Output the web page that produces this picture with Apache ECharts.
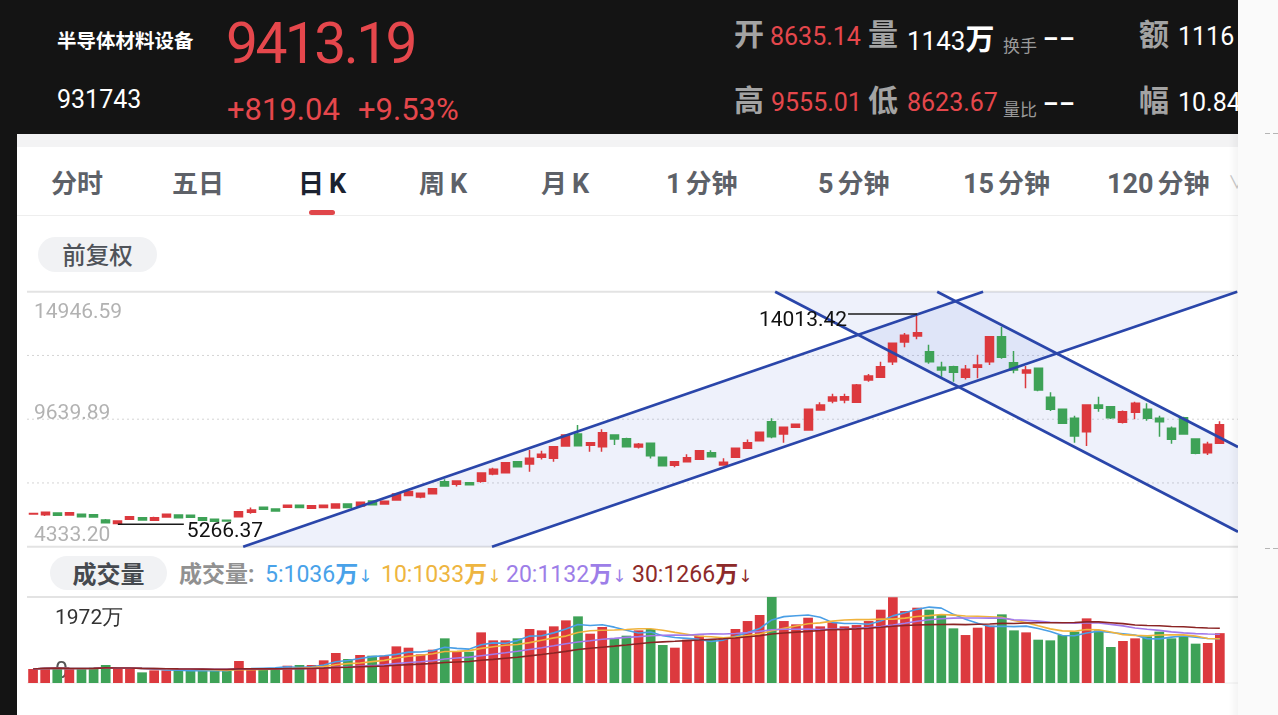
<!DOCTYPE html>
<html lang="zh-CN">
<head>
<meta charset="utf-8">
<title>半导体材料设备 日K</title>
<script src="https://cdn.jsdelivr.net/npm/echarts@6.0.0/dist/echarts.min.js"></script>
<style>
  html, body { margin:0; padding:0; width:1278px; height:715px; overflow:hidden; background:#fff; }
  body { position:relative; font-family:'Noto Sans CJK SC', Roboto, sans-serif; }
  .abs { position:absolute; white-space:nowrap; line-height:1; }
  .num { font-family: Roboto, 'Noto Sans CJK SC', sans-serif; }
  .red { color:#e5474c; }
  .wh { color:#ffffff; }
  .lbl { font-size:30px; font-weight:700; color:#a3a3a3; }
  .small { font-size:17px; color:#9a9a9a; }
  .dd { font-family: Roboto, sans-serif; font-size:24px; font-weight:700; color:#fff; letter-spacing:1px; }
  #header { position:absolute; left:0; top:0; width:1238px; height:134px; background:#141414; overflow:hidden; }
  #leftbar { position:absolute; left:0; top:0; width:17px; height:715px; background:#141414; z-index:5; }
  #rightpanel { position:absolute; left:1238px; top:0; width:40px; height:715px; background:#fafafa; z-index:5; }
  .dash { position:absolute; height:1px; width:5px; background:#b5b5b5; }
  #tabstrip { position:absolute; left:17px; top:134px; width:1221px; height:13px; background:#f3f3f4; }
  #tabline { position:absolute; left:17px; top:215px; width:1221px; height:1px; background:#eeeeee; }
  .tab { font-size:26px; font-weight:700; color:#5d6168; top:168.5px; }
  .tab .d { font-family: Roboto, sans-serif; font-size:27px; font-weight:700; margin-right:4px; }
  .tab .k { font-family: Roboto, sans-serif; font-size:27px; font-weight:700; margin-left:5px; }
  .tab.on { color:#1b2230; }
  #underline { position:absolute; left:309px; top:210px; width:26px; height:4.5px; border-radius:3px; background:#e0464a; }
  .pill { position:absolute; display:flex; align-items:center; justify-content:center; background:#f1f2f4; line-height:1; white-space:nowrap; }
  #chart { position:absolute; left:0; top:0; width:1278px; height:715px; z-index:2; }
  #shade { position:absolute; left:1229px; top:134px; width:9px; height:581px; z-index:4;
           background:linear-gradient(to right, rgba(0,0,0,0), rgba(0,0,0,0.045)); pointer-events:none; }
  .leg { top:561px; font-size:23px; }
  .leg .n { font-family: Roboto, sans-serif; }
  .leg .w { font-weight:700; }
  .leg .ar { font-family:'DejaVu Sans', sans-serif; font-size:17px; }
</style>
</head>
<body>
<div id="header">
  <div class="abs wh" style="left:57px;top:30px;font-size:19.5px;font-weight:700;">半导体材料设备</div>
  <div class="abs num red" style="left:226px;top:15px;font-size:57px;letter-spacing:-2.6px;">9413.19</div>
  <div class="abs num wh" style="left:57px;top:87px;font-size:25px;">931743</div>
  <div class="abs num red" style="left:227px;top:94px;font-size:31px;">+819.04</div>
  <div class="abs num red" style="left:358px;top:94px;font-size:31px;">+9.53%</div>

  <div class="abs lbl" style="left:734px;top:17px;">开</div>
  <div class="abs num red" style="left:770px;top:24px;font-size:25px;">8635.14</div>
  <div class="abs lbl" style="left:868px;top:17px;">量</div>
  <div class="abs num wh" style="left:907px;top:23px;font-size:26px;">1143<span style="font-family:'Noto Sans CJK SC';font-weight:700;font-size:29px;">万</span></div>
  <div class="abs small" style="left:1003px;top:36px;">换手</div>
  <div class="abs dd" style="left:1043px;top:27px;">––</div>
  <div class="abs lbl" style="left:1139px;top:17px;">额</div>
  <div class="abs num wh" style="left:1178px;top:24px;font-size:25px;">1116</div>

  <div class="abs lbl" style="left:734px;top:83px;">高</div>
  <div class="abs num red" style="left:771px;top:90px;font-size:25px;">9555.01</div>
  <div class="abs lbl" style="left:868px;top:83px;">低</div>
  <div class="abs num red" style="left:907px;top:90px;font-size:25px;">8623.67</div>
  <div class="abs small" style="left:1003px;top:100px;">量比</div>
  <div class="abs dd" style="left:1043px;top:92px;">––</div>
  <div class="abs lbl" style="left:1139px;top:83px;">幅</div>
  <div class="abs num wh" style="left:1178px;top:90px;font-size:25px;">10.84</div>
</div>
<div id="leftbar"></div>
<div id="rightpanel">
  <div class="dash" style="left:27px;top:133px;"></div><div class="dash" style="left:35px;top:133px;"></div>
  <div class="dash" style="left:27px;top:548px;"></div><div class="dash" style="left:35px;top:548px;"></div>
</div>

<div id="tabstrip"></div>
<div class="abs tab" style="left:51px;">分时</div>
<div class="abs tab" style="left:172px;">五日</div>
<div class="abs tab on" style="left:298px;">日<span class="k">K</span></div>
<div class="abs tab" style="left:419px;">周<span class="k">K</span></div>
<div class="abs tab" style="left:541px;">月<span class="k">K</span></div>
<div class="abs tab" style="left:666px;"><span class="d">1</span>分钟</div>
<div class="abs tab" style="left:818px;"><span class="d">5</span>分钟</div>
<div class="abs tab" style="left:963px;"><span class="d">15</span>分钟</div>
<div class="abs tab" style="left:1107px;"><span class="d">120</span>分钟</div>
<div class="abs" style="left:1228px;top:172px;font-size:18px;color:#c8c8c8;">∨</div>
<div id="underline"></div>
<div id="tabline"></div>

<div class="pill" style="left:38px;top:237px;width:119px;height:35px;border-radius:17.5px;font-size:23.5px;font-weight:500;color:#4f5359;">前复权</div>
<div class="pill" style="left:50px;top:556px;width:117px;height:34px;border-radius:17px;font-size:24px;font-weight:700;color:#45494f;">成交量</div>

<div class="abs leg" style="left:179px;color:#919191;font-weight:700;">成交量<span class="n">:</span></div>
<div class="abs leg" id="leg0" style="left:265px;color:#49a2e9;"></div>
<div class="abs leg" id="leg1" style="left:381px;color:#eeb540;"></div>
<div class="abs leg" id="leg2" style="left:506px;color:#9d7ee8;"></div>
<div class="abs leg" id="leg3" style="left:632px;color:#8d2a2a;"></div>

<div id="chart"></div>
<div id="shade"></div>

<script>
// ---------------- data ----------------
// daily candles, [open, close, lowest, highest]
const ohlc = [
  [5695, 5715, 5680, 5740], [5665, 5765, 5615, 5775], [5736, 5640, 5630, 5750], [5652, 5748, 5640, 5760],
  [5682, 5582, 5575, 5695], [5665, 5570, 5560, 5680], [5444, 5332, 5320, 5486], [5300, 5400, 5266.37, 5420],
  [5474, 5582, 5460, 5600], [5540, 5444, 5435, 5555], [5432, 5540, 5415, 5582], [5570, 5682, 5560, 5700],
  [5652, 5540, 5530, 5670], [5640, 5560, 5550, 5655], [5540, 5430, 5420, 5560], [5474, 5390, 5380, 5490],
  [5430, 5400, 5390, 5440], [5582, 5790, 5570, 5800], [5765, 5860, 5700, 5960], [5973, 5890, 5880, 5990],
  [5900, 5820, 5810, 5910], [5973, 6056, 5960, 6090], [6056, 5960, 5950, 6070], [5931, 6040, 5920, 6050],
  [5960, 6056, 5950, 6070], [5944, 6110, 5935, 6120], [6110, 5960, 5950, 6120], [6027, 6181, 6015, 6200],
  [6235, 6081, 6070, 6250], [6110, 6222, 6100, 6240], [6276, 6526, 6260, 6550], [6460, 6630, 6450, 6650],
  [6400, 6560, 6350, 6580], [6540, 6740, 6530, 6770], [7039, 6860, 6840, 7138], [6930, 7067, 6840, 7080],
  [6997, 6910, 6890, 7010], [7060, 7400, 7000, 7420], [7359, 7555, 7310, 7620], [7413, 7829, 7400, 7860],
  [7871, 7663, 7650, 7890], [7775, 8010, 7455, 8358], [8054, 8179, 7960, 8330], [8012, 8495, 7871, 8520],
  [8524, 8982, 8500, 9000], [9024, 8537, 8520, 9398], [8554, 8662, 8287, 8680], [8495, 9078, 8290, 9219],
  [8982, 8815, 8566, 9000], [8828, 8495, 8460, 8870], [8480, 8600, 8420, 8650], [8637, 8120, 8000, 8660],
  [8054, 7704, 7690, 8070], [7720, 7870, 7640, 7900], [7871, 8037, 7850, 8180], [7971, 8329, 7950, 8360],
  [8246, 8079, 8060, 8350], [7733, 7846, 7720, 8010], [8054, 8428, 8030, 8460], [8428, 8662, 8410, 8790],
  [8745, 9095, 8730, 9110], [9536, 8911, 8845, 9677], [9024, 9303, 8662, 9330], [9303, 9427, 9290, 9450],
  [9190, 10052, 9170, 10080], [10023, 10231, 10000, 10350], [10400, 10560, 10300, 10700], [10438, 10576, 10300, 10700],
  [10342, 11063, 10320, 11100], [11271, 11438, 11200, 11520], [11383, 11826, 11350, 12030], [12033, 12799, 11900, 12830],
  [12855, 13132, 12630, 13230], [13102, 13240, 12970, 14013.42], [12449, 12033, 11950, 12740], [11800, 11690, 11410, 12030],
  [11826, 11590, 11200, 11860], [11383, 11715, 11290, 11900], [11800, 11895, 11340, 12320], [12033, 13074, 11900, 13100],
  [13074, 12216, 12160, 13490], [11990, 11688, 11550, 12478], [11560, 11690, 10925, 11850], [11757, 10855, 10800, 11780],
  [10550, 10052, 9980, 10760], [10052, 9469, 9440, 10070], [9677, 8940, 8662, 9780], [9122, 10231, 8524, 10250],
  [10231, 10093, 9952, 10576], [10162, 9704, 9650, 10180], [9510, 9952, 9460, 10000], [9927, 10301, 9636, 10370],
  [10052, 9677, 9580, 10300], [9677, 9536, 8911, 9780], [9261, 8803, 8620, 9340], [9704, 9024, 9000, 9740],
  [8814, 8220, 8180, 8830], [8246, 8594.15, 8150, 8700], [8635.14, 9413.19, 8623.67, 9555.01]
];

// daily volume, 万手
const volumes = [
  321, 351, 351, 321, 321, 351, 413, 321, 351, 244,
  290, 290, 290, 290, 275, 275, 275, 504, 321, 321,
  321, 397, 413, 413, 520, 688, 550, 642, 626, 626,
  840, 810, 657, 764, 1024, 718, 718, 1161, 978, 978,
  1024, 1238, 1207, 1299, 1436, 1528, 1131, 1284, 1024, 1085,
  1207, 1238, 871, 810, 993, 1085, 993, 1039, 1238, 1421,
  1559, 1972, 1421, 1345, 1497, 1299, 1390, 1299, 1329, 1421,
  1681, 1965, 1650, 1727, 1681, 1559, 1253, 1100, 1268, 1314,
  1574, 1207, 1161, 993, 978, 1100, 1177, 1482, 1207, 825,
  963, 1024, 1070, 1177, 1024, 1085, 902, 917, 1143
];

// one slot per trading day plus one empty slot at the right edge
const categories = Array.from({ length: ohlc.length + 1 }, (_, i) => 'D' + (i + 1));

// price axis levels and their tick labels
const priceLevels = [4333.20, 6986.55, 9639.89, 12293.24, 14946.59];
const priceLevelLabels = ['4333.20', '', '9639.89', '', '14946.59'];

// volume axis levels and their tick labels
const volumeLevels = [0, 1972];
const volumeLevelLabels = ['0', '1972万'];

// moving-average legend
const maPeriods = [5, 10, 20, 30];
const maLegendValues = ['1036', '1033', '1132', '1266'];
const maColors = ['#4a9fe6', '#f0b33d', '#a27aea', '#8b2424'];

// hand-drawn channel lines: [x1, price1, x2, price2] in (day index, price)
const risingChannel = [[17.35, 4333.2, 78.45, 14946.59], [37.9, 4333.2, 99.43, 14946.59]];
const fallingChannel = [[61.28, 14946.59, 99.5, 4957.5], [74.66, 14946.59, 99.5, 8482.8]];

// ---------------- helpers ----------------
const UP = '#dc393e', DOWN = '#3ea257';
const isUp = i => ohlc[i][1] >= ohlc[i][0];

function movingAverage(period) {
  return volumes.map((_, i) => {
    const s0 = Math.max(0, i - period + 1);
    let s = 0;
    for (let k = s0; k <= i; k++) s += volumes[k];
    return +(s / (i - s0 + 1)).toFixed(1);
  });
}

function lineAt(seg, x) {
  return seg[1] + (seg[3] - seg[1]) * (x - seg[0]) / (seg[2] - seg[0]);
}

function clipPolygon(pts, r) {
  const x0 = r.x, x1 = r.x + r.width, y0 = r.y, y1 = r.y + r.height;
  const edges = [
    [p => p[0] >= x0, (a, b) => { const t = (x0 - a[0]) / (b[0] - a[0]); return [x0, a[1] + t * (b[1] - a[1])]; }],
    [p => p[0] <= x1, (a, b) => { const t = (x1 - a[0]) / (b[0] - a[0]); return [x1, a[1] + t * (b[1] - a[1])]; }],
    [p => p[1] >= y0, (a, b) => { const t = (y0 - a[1]) / (b[1] - a[1]); return [a[0] + t * (b[0] - a[0]), y0]; }],
    [p => p[1] <= y1, (a, b) => { const t = (y1 - a[1]) / (b[1] - a[1]); return [a[0] + t * (b[0] - a[0]), y1]; }]
  ];
  let out = pts;
  for (const [inside, cut] of edges) {
    const inp = out; out = [];
    for (let i = 0; i < inp.length; i++) {
      const cur = inp[i], prev = inp[(i + inp.length - 1) % inp.length];
      if (inside(cur)) { if (!inside(prev)) out.push(cut(prev, cur)); out.push(cur); }
      else if (inside(prev)) out.push(cut(prev, cur));
    }
    if (!out.length) break;
  }
  return out;
}

function clipSegment(a, b, r) {
  let t0 = 0, t1 = 1;
  const dx = b[0] - a[0], dy = b[1] - a[1];
  const p = [-dx, dx, -dy, dy];
  const q = [a[0] - r.x, r.x + r.width - a[0], a[1] - r.y, r.y + r.height - a[1]];
  for (let i = 0; i < 4; i++) {
    if (p[i] === 0) { if (q[i] < 0) return null; continue; }
    const t = q[i] / p[i];
    if (p[i] < 0) { if (t > t1) return null; if (t > t0) t0 = t; }
    else { if (t < t0) return null; if (t < t1) t1 = t; }
  }
  return [[a[0] + t0 * dx, a[1] + t0 * dy], [a[0] + t1 * dx, a[1] + t1 * dy]];
}

const xFrom = -0.5, xTo = ohlc.length + 0.5;
function channelSegments(api) {
  const a = [api.value(0), api.value(1), api.value(2), api.value(3)];
  const b = [api.value(4), api.value(5), api.value(6), api.value(7)];
  return [a, b].map(seg => [
    api.coord([xFrom, lineAt(seg, xFrom)]),
    api.coord([xTo, lineAt(seg, xTo)])
  ]);
}

// legend text
maPeriods.forEach((p, i) => {
  document.getElementById('leg' + i).innerHTML =
    '<span class="n">' + p + ':' + maLegendValues[i] + '</span><span class="w">万</span><span class="ar">↓</span>';
});

// extremes
let maxIdx = 0, minIdx = 0;
ohlc.forEach((d, i) => { if (d[3] > ohlc[maxIdx][3]) maxIdx = i; if (d[2] < ohlc[minIdx][2]) minIdx = i; });

const channels = [risingChannel, fallingChannel].map(c => c[0].concat(c[1]));

const chart = echarts.init(document.getElementById('chart'));
const option = {
  animation: false,
  grid: [
    { left: 27, top: 291.7, width: 1211, height: 255 },
    { left: 27, top: 597, width: 1211, height: 86 }
  ],
  xAxis: [
    { type: 'category', gridIndex: 0, data: categories, boundaryGap: true, show: false },
    { type: 'value', gridIndex: 0, min: xFrom, max: xTo, show: false },
    { type: 'category', gridIndex: 1, data: categories, boundaryGap: true, show: false }
  ],
  yAxis: [
    { type: 'value', gridIndex: 0, min: priceLevels[0], max: priceLevels[priceLevels.length - 1], show: false },
    { type: 'value', gridIndex: 1, min: volumeLevels[0], max: volumeLevels[1], show: false }
  ],
  series: [
    {
      name: 'priceGrid', type: 'custom', xAxisIndex: 1, yAxisIndex: 0, z: 1, silent: true,
      data: priceLevels.map(v => [0, v]),
      renderItem(params, api) {
        const i = params.dataIndex, n = priceLevels.length;
        const cs = params.coordSys;
        const y = api.coord([0, api.value(1)])[1];
        const edge = i === 0 || i === n - 1;
        const children = [{
          type: 'line',
          shape: { x1: cs.x, y1: y, x2: cs.x + cs.width, y2: y },
          style: edge ? { stroke: '#e3e3e3', lineWidth: 2 } : { stroke: '#d4d4d4', lineWidth: 1, lineDash: [2, 3] }
        }];
        if (priceLevelLabels[i]) {
          const dy = i === n - 1 ? 21 : (i === 0 ? -11 : -5);
          children.push({ type: 'text', style: {
            text: priceLevelLabels[i], x: cs.x + 7, y: y + dy, align: 'left', verticalAlign: 'middle',
            fill: '#b2b2b2', font: '21px Roboto'
          }});
        }
        return { type: 'group', children };
      }
    },
    {
      name: 'channelFill', type: 'custom', xAxisIndex: 1, yAxisIndex: 0, z: 2, silent: true,
      encode: { x: [0, 2, 4, 6], y: [1, 3, 5, 7] },
      data: channels,
      renderItem(params, api) {
        const [a, b] = channelSegments(api);
        const pts = clipPolygon([a[0], a[1], b[1], b[0]], params.coordSys);
        return { type: 'polygon', shape: { points: pts }, style: { fill: 'rgba(64,104,208,0.09)' } };
      }
    },
    {
      name: '日K', type: 'candlestick', xAxisIndex: 0, yAxisIndex: 0, z: 3,
      data: ohlc, barWidth: '70%',
      itemStyle: { color: UP, color0: DOWN, borderColor: UP, borderColor0: DOWN, borderWidth: 1.5 }
    },
    {
      name: 'channelLines', type: 'custom', xAxisIndex: 1, yAxisIndex: 0, z: 4, silent: true,
      encode: { x: [0, 2, 4, 6], y: [1, 3, 5, 7] },
      data: channels,
      renderItem(params, api) {
        const segs = channelSegments(api).map(s => clipSegment(s[0], s[1], params.coordSys)).filter(Boolean);
        return { type: 'group', children: segs.map(s => ({
          type: 'line', shape: { x1: s[0][0], y1: s[0][1], x2: s[1][0], y2: s[1][1] },
          style: { stroke: '#2a46aa', lineWidth: 2.7 }
        }))};
      }
    },
    {
      name: 'extremes', type: 'custom', xAxisIndex: 0, yAxisIndex: 0, z: 5, silent: true,
      data: [[maxIdx, ohlc[maxIdx][3]], [minIdx, ohlc[minIdx][2]]],
      renderItem(params, api) {
        const idx = api.value(0), val = api.value(1);
        const p = api.coord([idx, val]);
        const toLeft = idx > ohlc.length / 2;
        const x2 = toLeft ? p[0] - 69 : p[0] + 66;
        return { type: 'group', children: [
          { type: 'line', shape: { x1: p[0], y1: p[1], x2: x2, y2: p[1] }, style: { stroke: '#1a1a1a', lineWidth: 1.5 } },
          { type: 'text', style: {
            text: val.toFixed(2), x: toLeft ? x2 - 1 : x2 + 3, y: p[1] + 7,
            align: toLeft ? 'right' : 'left', verticalAlign: 'middle', fill: '#111', font: '21px Roboto'
          }}
        ]};
      }
    },
    {
      name: 'volumeGrid', type: 'custom', xAxisIndex: 2, yAxisIndex: 1, z: 1, silent: true,
      data: volumeLevels.map(v => [0, v]),
      renderItem(params, api) {
        const i = params.dataIndex;
        const cs = params.coordSys;
        const y = api.coord([0, api.value(1)])[1];
        const top = i === volumeLevels.length - 1;
        return { type: 'group', children: [
          { type: 'line', shape: { x1: cs.x, y1: y, x2: cs.x + cs.width, y2: y },
            style: top ? { stroke: '#e3e3e3', lineWidth: 2 } : { stroke: '#eeeeee', lineWidth: 1 } },
          { type: 'text', z2: 20, style: {
            text: volumeLevelLabels[i], x: cs.x + 28, y: y + (top ? 22 : -11), align: 'left', verticalAlign: 'middle',
            fill: top ? '#333333' : '#555555', font: top ? '21px Roboto' : '23px Roboto'
          }}
        ]};
      }
    },
    {
      name: '成交量', type: 'bar', xAxisIndex: 2, yAxisIndex: 1, z: 2, barWidth: '80%',
      data: volumes.map((v, i) => ({ value: v, itemStyle: { color: isUp(i) ? UP : DOWN } }))
    },
    ...maPeriods.map((p, k) => ({
      name: 'MA' + p, type: 'line', xAxisIndex: 2, yAxisIndex: 1, z: 3,
      data: movingAverage(p), symbol: 'none', smooth: false,
      lineStyle: { color: maColors[k], width: 1.6 }
    }))
  ]
};
chart.setOption(option);
</script>
</body>
</html>
